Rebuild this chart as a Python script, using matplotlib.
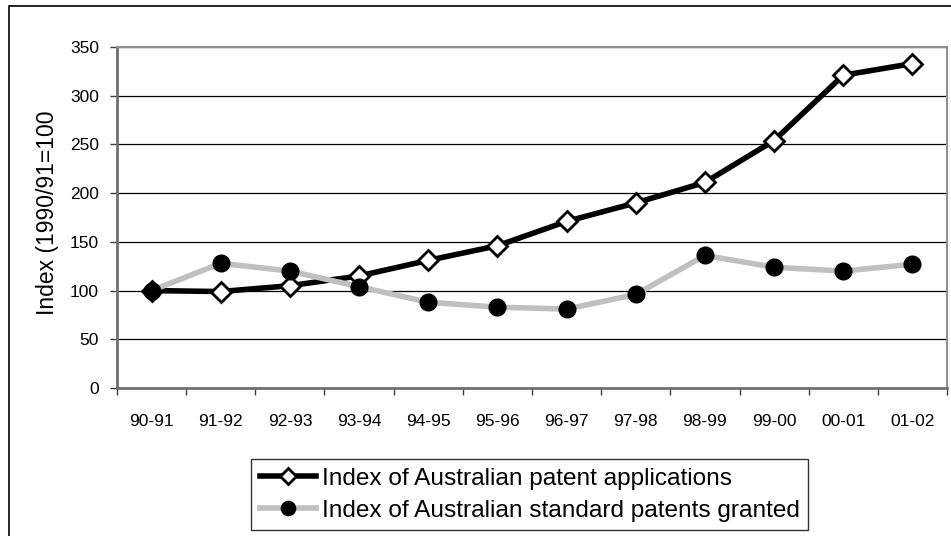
import matplotlib
matplotlib.use("Agg")
import matplotlib.pyplot as plt
from matplotlib.patches import Rectangle

plt.rcParams['font.family'] = ['Liberation Sans', 'DejaVu Sans']

years = ['90-91', '91-92', '92-93', '93-94', '94-95', '95-96',
         '96-97', '97-98', '98-99', '99-00', '00-01', '01-02']
applications = [100, 99, 105, 115, 131, 146, 171, 190, 211, 254, 321, 333]
granted = [100, 128, 120, 104, 88, 83, 81, 96, 136, 124, 120, 127]

W, H = 951, 536
fig = plt.figure(figsize=(W / 100, H / 100), dpi=100)

# outer chart border (runs off the right and bottom edges)
fig.patches.append(Rectangle((9 / W, -0.1), 1.2, 1 - 6 / H + 0.1,
                             transform=fig.transFigure, fill=False,
                             edgecolor='black', linewidth=1.2))

ax = fig.add_axes([117 / W, 1 - 388 / H, (947 - 117) / W, (388 - 47) / H])

x = range(len(years))
app_line, = ax.plot(x, applications, color='black', linewidth=4, marker='D',
                    markersize=10, markerfacecolor='white',
                    markeredgecolor='black', markeredgewidth=2, zorder=3)
grant_line, = ax.plot(x, granted, color='#c0c0c0', linewidth=4, marker='o',
                      markersize=12, markerfacecolor='black',
                      markeredgecolor='black', zorder=4)

ax.set_xlim(-0.5, len(years) - 0.5)
ax.set_ylim(0, 350)
ax.set_yticks(range(0, 351, 50))
ax.set_xticks(x)
ax.set_xticklabels(years)
ax.set_xticks([i - 0.5 for i in range(len(years) + 1)], minor=True)
ax.tick_params(axis='x', which='major', length=0, pad=19, labelsize=12.5)
ax.tick_params(axis='x', which='minor', length=5, width=1, color='#404040')
ax.tick_params(axis='y', length=5, width=1, color='#404040', labelsize=12.5, pad=8)

ax.yaxis.grid(True, color='black', linewidth=0.9)
ax.set_axisbelow(True)
for side in ['top', 'right']:
    ax.spines[side].set_color('#909090')
    ax.spines[side].set_linewidth(1.5)
for side in ['left', 'bottom']:
    ax.spines[side].set_color('#707070')
    ax.spines[side].set_linewidth(2)

fig.text(48 / W, 1 - 213 / H, 'Index (1990/91=100', rotation=90,
         ha='center', va='center', fontsize=16.5)

leg = fig.legend([app_line, grant_line],
                 ['Index of Australian patent applications',
                  'Index of Australian standard patents granted'],
                 loc='upper left', bbox_to_anchor=(251 / W, 1 - 459 / H),
                 fontsize=17.6, frameon=True, fancybox=False,
                 edgecolor='black', handlelength=2.3, handletextpad=0.25,
                 borderaxespad=0, borderpad=0.35, labelspacing=0.4,
                 markerscale=0.85)
leg.get_frame().set_linewidth(1)

fig.savefig('out.png', dpi=100)
